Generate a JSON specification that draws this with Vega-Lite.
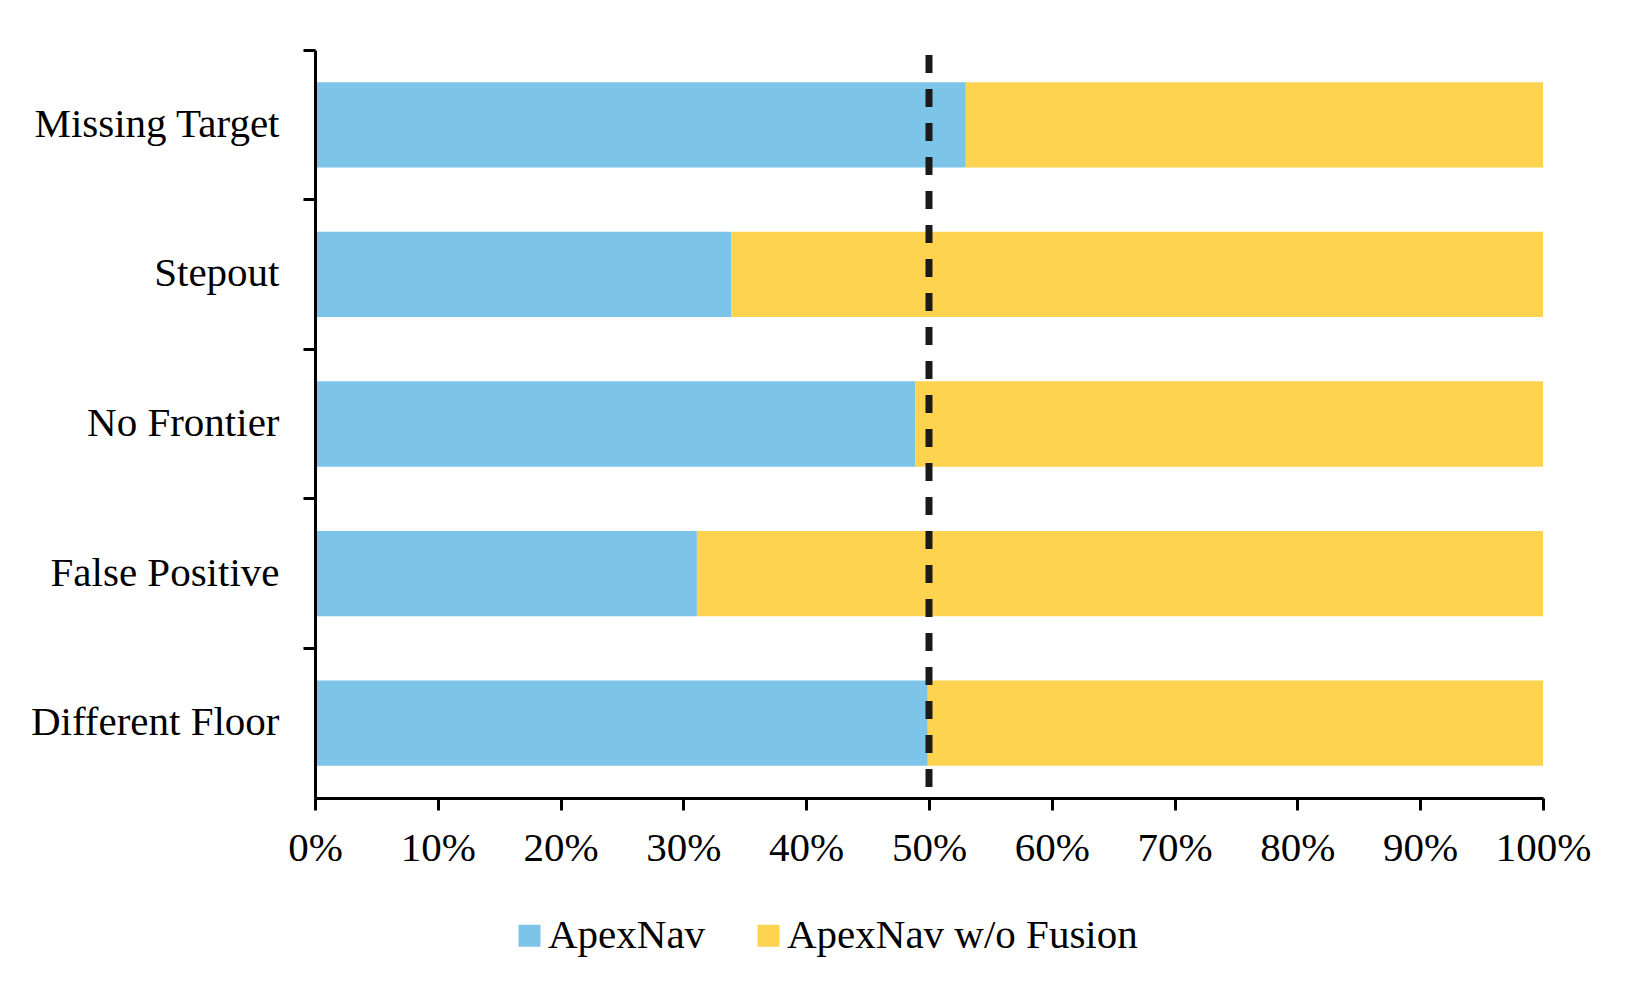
{
  "$schema": "https://vega.github.io/schema/vega-lite/v6.json",
  "width": 1228,
  "height": 748,
  "autosize": {"type": "none"},
  "padding": {"left": 315, "top": 50, "right": 99, "bottom": 201},
  "background": "white",
  "config": {"view": {"stroke": null}, "font": "Liberation Serif"},
  "layer": [
    {
      "data": {
        "values": [
          {"category": "Missing Target", "series": "ApexNav", "value": 0.53},
          {"category": "Missing Target", "series": "ApexNav w/o Fusion", "value": 0.47},
          {"category": "Stepout", "series": "ApexNav", "value": 0.339},
          {"category": "Stepout", "series": "ApexNav w/o Fusion", "value": 0.661},
          {"category": "No Frontier", "series": "ApexNav", "value": 0.489},
          {"category": "No Frontier", "series": "ApexNav w/o Fusion", "value": 0.511},
          {"category": "False Positive", "series": "ApexNav", "value": 0.311},
          {"category": "False Positive", "series": "ApexNav w/o Fusion", "value": 0.689},
          {"category": "Different Floor", "series": "ApexNav", "value": 0.499},
          {"category": "Different Floor", "series": "ApexNav w/o Fusion", "value": 0.501}
        ]
      },
      "mark": {"type": "bar"},
      "encoding": {
        "y": {
          "field": "category",
          "type": "nominal",
          "sort": null,
          "scale": {"paddingInner": 0.43, "paddingOuter": 0.215},
          "axis": {
            "title": null,
            "labelFontSize": 41,
            "labelFont": "Liberation Serif",
            "labelColor": "black",
            "labelLimit": 500,
            "labelPadding": 24,
            "tickSize": 12,
            "tickWidth": 3,
            "tickColor": "black",
            "domainWidth": 3,
            "domainColor": "black",
            "bandPosition": -0.377,
            "grid": false,
            "zindex": 1
          }
        },
        "x": {
          "field": "value",
          "type": "quantitative",
          "stack": "zero",
          "scale": {"domain": [0, 1], "nice": false},
          "axis": {
            "title": null,
            "format": ".0%",
            "values": [0, 0.1, 0.2, 0.3, 0.4, 0.5, 0.6, 0.7, 0.8, 0.9, 1],
            "labelFontSize": 41,
            "labelFont": "Liberation Serif",
            "labelColor": "black",
            "labelFlush": false,
            "labelPadding": 18,
            "tickSize": 12,
            "tickWidth": 3,
            "tickColor": "black",
            "domainWidth": 3,
            "domainColor": "black",
            "grid": false,
            "zindex": 1
          }
        },
        "color": {
          "field": "series",
          "type": "nominal",
          "scale": {"domain": ["ApexNav", "ApexNav w/o Fusion"], "range": ["#7CC5E8", "#FED34F"]},
          "legend": {
            "title": null,
            "orient": "none",
            "legendX": 194,
            "legendY": 865,
            "direction": "horizontal",
            "symbolType": "square",
            "symbolSize": 484,
            "symbolStrokeWidth": 0,
            "labelFontSize": 41,
            "labelFont": "Liberation Serif",
            "labelColor": "black",
            "labelLimit": 600,
            "labelOffset": -2,
            "columnPadding": 42,
            "padding": 0
          }
        },
        "order": {"field": "series", "sort": "ascending"}
      }
    },
    {
      "data": {"values": [{"x": 0.5}]},
      "mark": {"type": "rule", "strokeDash": [18, 16], "strokeDashOffset": 29, "strokeWidth": 7, "color": "#1a1a1a"},
      "encoding": {"x": {"field": "x", "type": "quantitative"}}
    }
  ]
}
